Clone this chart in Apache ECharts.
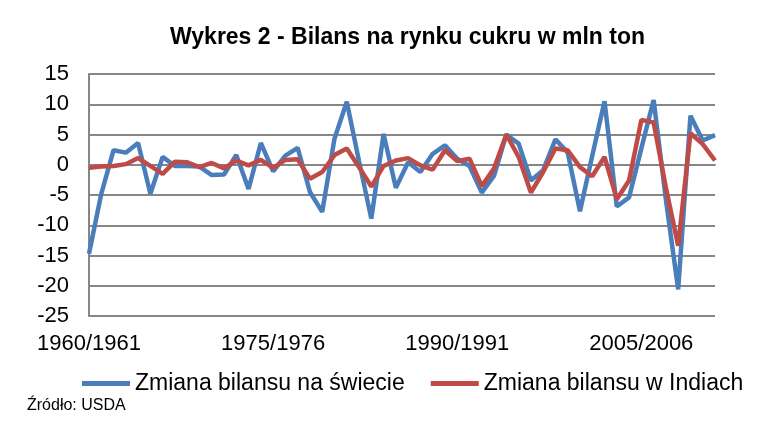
<!DOCTYPE html>
<html>
<head>
<meta charset="utf-8">
<script src="https://cdn.jsdelivr.net/npm/echarts@6/dist/echarts.min.js"></script>
<style>
html,body{margin:0;padding:0;background:#fff;}
#chart{width:776px;height:438px;}
</style>
</head>
<body>
<div id="chart"></div>
<script>
const categories = [
  "1960/1961","1961/1962","1962/1963","1963/1964","1964/1965","1965/1966","1966/1967","1967/1968","1968/1969","1969/1970",
  "1970/1971","1971/1972","1972/1973","1973/1974","1974/1975","1975/1976","1976/1977","1977/1978","1978/1979","1979/1980",
  "1980/1981","1981/1982","1982/1983","1983/1984","1984/1985","1985/1986","1986/1987","1987/1988","1988/1989","1989/1990",
  "1990/1991","1991/1992","1992/1993","1993/1994","1994/1995","1995/1996","1996/1997","1997/1998","1998/1999","1999/2000",
  "2000/2001","2001/2002","2002/2003","2003/2004","2004/2005","2005/2006","2006/2007","2007/2008","2008/2009","2009/2010",
  "2010/2011","2011/2012"
];
const worldBalance = [
  -14.7,-4.8,2.4,2.0,3.6,-4.8,1.3,-0.2,-0.2,-0.3,
  -1.7,-1.6,1.6,-4.0,3.6,-1.1,1.5,2.8,-4.5,-7.8,
  4.3,10.4,0.6,-8.9,5.1,-3.8,0.4,-1.2,1.8,3.2,
  1.0,-0.2,-4.6,-1.8,5.0,3.5,-2.6,-0.9,4.2,2.0,
  -7.7,1.5,10.5,-6.9,-5.4,2.7,10.7,-5.8,-20.6,8.1,
  4.0,4.9
];
const indiaBalance = [
  -0.5,-0.3,-0.2,0.1,1.1,-0.2,-1.5,0.5,0.4,-0.4,
  0.3,-0.6,0.7,-0.1,0.8,-0.5,0.8,0.9,-2.3,-1.2,
  1.6,2.7,-0.4,-3.6,-0.2,0.7,1.1,-0.1,-0.8,2.4,
  0.6,1.0,-3.5,-0.6,5.0,1.3,-4.6,-1.2,2.7,2.4,
  -0.4,-1.9,1.3,-5.7,-2.6,7.4,7.0,-3.8,-13.4,5.2,
  3.4,0.7
];
const seriesNames = ["Zmiana bilansu na świecie", "Zmiana bilansu w Indiach"];
const titleText = "Wykres 2 - Bilans na rynku cukru w mln ton";
const sourceText = "Źródło: USDA";

const FONT = "Liberation Sans, Arial, sans-serif";
const chart = echarts.init(document.getElementById('chart'), null, {renderer: 'canvas'});
chart.setOption({
  animation: false,
  backgroundColor: '#ffffff',
  title: {
    text: titleText,
    left: 165,
    top: 21,
    textStyle: {fontFamily: FONT, fontSize: 23, fontWeight: 'bold', color: '#000'}
  },
  legend: {
    data: seriesNames,
    left: 77,
    top: 367,
    icon: 'rect',
    itemWidth: 48,
    itemHeight: 5,
    itemGap: 26,
    textStyle: {fontFamily: FONT, fontSize: 23, color: '#000'}
  },
  graphic: [{
    type: 'text',
    left: 27,
    top: 398,
    style: {text: sourceText, font: '16px ' + FONT, fill: '#000'}
  }],
  grid: {left: 89, right: 61, top: 74, bottom: 122, containLabel: false},
  xAxis: {
    type: 'category',
    data: categories,
    boundaryGap: false,
    axisLine: {show: true, lineStyle: {color: '#868686', width: 2}},
    axisTick: {show: false},
    axisLabel: {interval: 14, fontFamily: FONT, fontSize: 22, color: '#000', margin: 17}
  },
  yAxis: {
    type: 'value',
    min: -25,
    max: 15,
    interval: 5,
    axisLine: {show: true, lineStyle: {color: '#868686', width: 2}},
    axisTick: {show: false},
    splitLine: {show: true, lineStyle: {color: '#868686', width: 2}},
    axisLabel: {fontFamily: FONT, fontSize: 22, color: '#000', margin: 20}
  },
  series: [
    {name: seriesNames[0], type: 'line', data: worldBalance, symbol: 'none',
     lineStyle: {color: '#4a7ebb', width: 4.5}, itemStyle: {color: '#4a7ebb'}},
    {name: seriesNames[1], type: 'line', data: indiaBalance, symbol: 'none',
     lineStyle: {color: '#be4b48', width: 4.5}, itemStyle: {color: '#be4b48'}}
  ]
});
</script>
</body>
</html>
